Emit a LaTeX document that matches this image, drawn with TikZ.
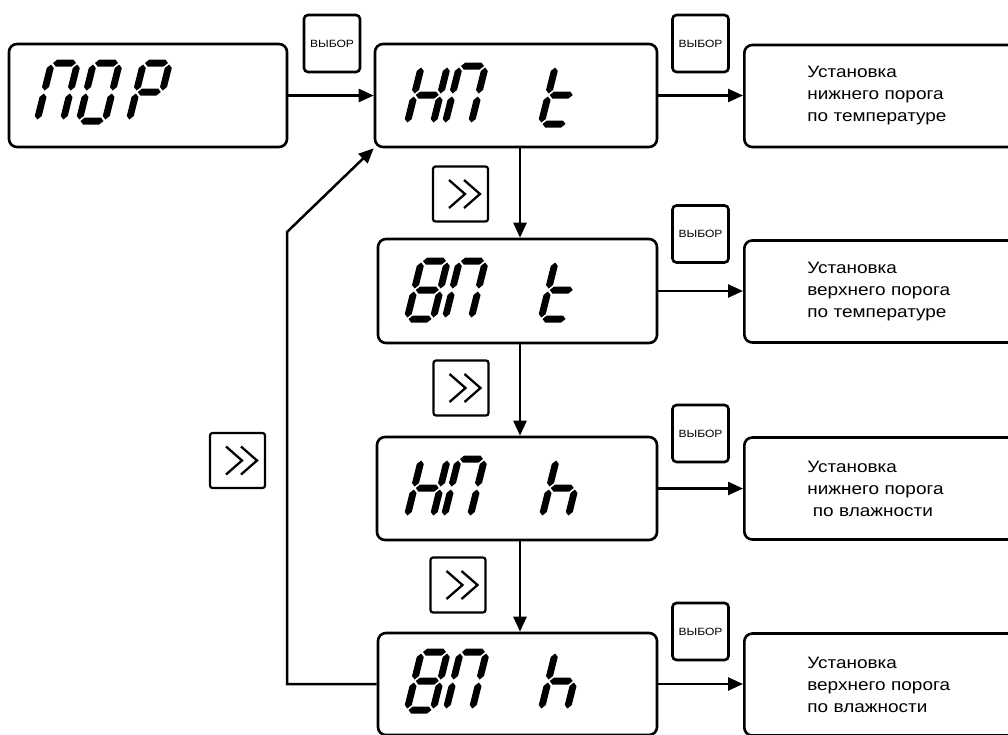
\documentclass[tikz,border=0pt]{standalone}
\usepackage{fontspec}
\setmainfont{Liberation Sans}
\newfontfamily\widesans[FakeStretch=1.15]{Liberation Sans}
\usetikzlibrary{arrows.meta}
\def\segh{3.5}
\newcommand{\hsg}[3]{\fill (#1,#3) -- ({#1+\segh},{#3+\segh}) -- ({#2-\segh},{#3+\segh}) -- (#2,#3) -- ({#2-\segh},{#3-\segh}) -- ({#1+\segh},{#3-\segh}) -- cycle;}
\newcommand{\vsg}[3]{\fill (#1,#2) -- ({#1+\segh},{#2+\segh}) -- ({#1+\segh},{#3-\segh}) -- (#1,#3) -- ({#1-\segh},{#3-\segh}) -- ({#1-\segh},{#2+\segh}) -- cycle;}
\newcommand{\segA}{\hsg{1.5}{24.5}{58}}
\newcommand{\segB}{\vsg{26}{30.5}{56.5}}
\newcommand{\segC}{\vsg{26}{1.5}{27.5}}
\newcommand{\segD}{\hsg{1.5}{24.5}{0}}
\newcommand{\segE}{\vsg{0}{1.5}{27.5}}
\newcommand{\segF}{\vsg{0}{30.5}{56.5}}
\newcommand{\segG}{\hsg{1.5}{24.5}{29}}
\newcommand{\lcdP}{\segA\segB\segC\segE\segF}
\newcommand{\lcdO}{\segA\segB\segC\segD\segE\segF}
\newcommand{\lcdR}{\segA\segB\segE\segF\segG}
\newcommand{\lcdH}{\segB\segC\segE\segF\segG}
\newcommand{\lcdB}{\segA\segB\segC\segD\segE\segF\segG}
\newcommand{\lcdt}{\segD\segE\segF\segG}
\newcommand{\lcdh}{\segC\segE\segF\segG}
\newcommand{\lcd}[3]{\begin{scope}[shift={(#1,#2)},yscale=-1,xslant=-0.25]#3\end{scope}}
\newcommand{\chevrons}[1]{%
  \draw[chev] ([shift={(-11.5,-14)}]#1.center) -- ([shift={(4.5,0)}]#1.center) -- ([shift={(-11.5,14)}]#1.center);
  \draw[chev] ([shift={(3.5,-14)}]#1.center) -- ([shift={(19.5,0)}]#1.center) -- ([shift={(3.5,14)}]#1.center);}
\begin{document}
\begin{tikzpicture}[x=1pt,y=-1pt,
  disp/.style={draw, line width=2.6pt, rounded corners=8pt, inner sep=0pt},
  info/.style={draw, line width=2.6pt, rounded corners=8pt, anchor=west, minimum height=102pt,
    text width=161pt, inner xsep=63pt, align=left, font=\widesans\fontsize{16.5}{22}\selectfont},
  sel/.style={draw, line width=2.6pt, rounded corners=4pt, minimum width=56pt, minimum height=57pt,
    inner sep=0pt, font=\widesans\fontsize{10.5}{12}\selectfont},
  nxt/.style={draw, line width=2.2pt, rounded corners=2.5pt, minimum size=55pt, inner sep=0pt},
  chev/.style={line width=2.3pt},
  conn/.style={line width=2.5pt, -{Triangle[length=15pt,width=13pt]}}]
\useasboundingbox (0,0) rectangle (1008,734);
\clip (0,0) rectangle (1008,734);
% display boxes
\node[disp, minimum width=278pt, minimum height=103pt] (por) at (148,95.5) {};
\node[disp, minimum width=282pt, minimum height=103pt] (hpt) at (516,95.5) {};
\node[disp, minimum width=279pt, minimum height=104pt] (vpt) at (517.5,291) {};
\node[disp, minimum width=280pt, minimum height=103pt] (hph) at (517,488.5) {};
\node[disp, minimum width=279pt, minimum height=102pt] (vph) at (517.5,684) {};
% glyphs
\lcd{37}{121}{\lcdP}\lcd{79}{121}{\lcdO}\lcd{129}{121}{\lcdR}
\lcd{407}{124}{\lcdH}\lcd{445}{124}{\lcdP}\lcd{541}{124}{\lcdt}
\lcd{407}{319}{\lcdB}\lcd{445}{319}{\lcdP}\lcd{541}{319}{\lcdt}
\lcd{407}{517}{\lcdH}\lcd{444}{517}{\lcdP}\lcd{542}{517}{\lcdh}
\lcd{407}{710}{\lcdB}\lcd{446}{710}{\lcdP}\lcd{541}{710}{\lcdh}
% info boxes
\node[info] (r1) at (743,96) {Установка\\нижнего порога\\по температуре};
\node[info] (r2) at (743,291.5) {Установка\\верхнего порога\\по температуре};
\node[info] (r3) at (743,488.5) {Установка\\нижнего порога\\\ по влажности};
\node[info] (r4) at (743,684.5) {Установка\\верхнего порога\\по влажности};
% select buttons
\node[sel] (s1) at (332,43.5) {ВЫБОР};
\node[sel] (s2) at (700.5,43.5) {ВЫБОР};
\node[sel] (s3) at (700.5,234) {ВЫБОР};
\node[sel] (s4) at (700.5,433.5) {ВЫБОР};
\node[sel] (s5) at (700.5,631.5) {ВЫБОР};
% next buttons
\node[nxt] (n1) at (460.5,194) {};
\node[nxt] (n2) at (461,388) {};
\node[nxt] (n3) at (458,585) {};
\node[nxt] (n4) at (237.5,460.5) {};
\chevrons{n1}\chevrons{n2}\chevrons{n3}\chevrons{n4}
% connectors
\coordinate (vx) at (520,0);
\coordinate (lc) at (287,232);
\draw[conn] (por.east) -- (hpt.west);
\draw[conn] (hpt.east) -- (hpt.east -| r1.west);
\draw[conn] (vpt.east) -- (vpt.east -| r2.west);
\draw[conn] (hph.east) -- (hph.east -| r3.west);
\draw[conn] (vph.east) -- (vph.east -| r4.west);
\draw[conn] (hpt.south -| vx) -- (vpt.north -| vx);
\draw[conn] (vpt.south -| vx) -- (hph.north -| vx);
\draw[conn] (hph.south -| vx) -- (vph.north -| vx);
\draw[conn] (vph.west) -| (lc) -- (hpt.south west);
\end{tikzpicture}
\end{document}
